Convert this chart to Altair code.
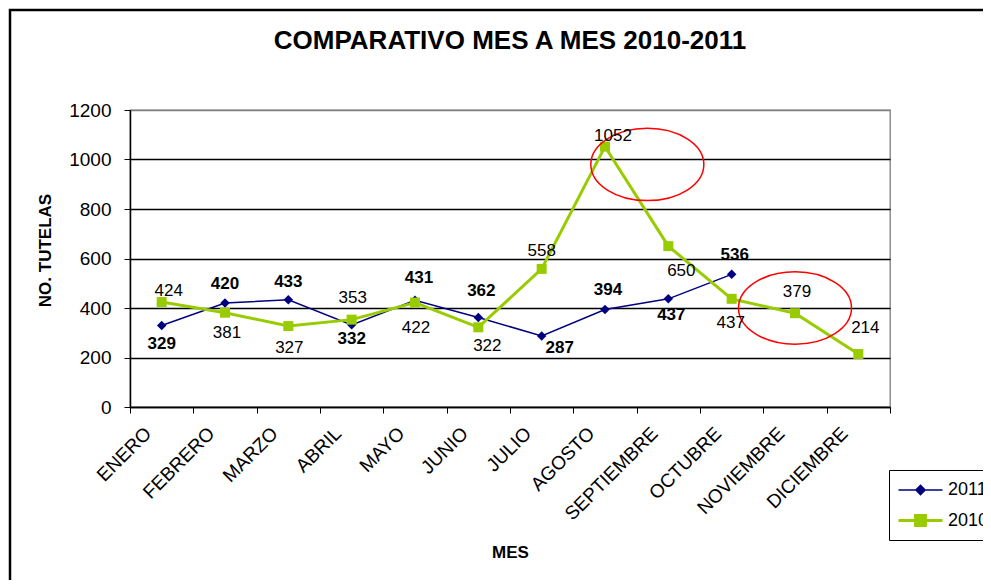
import altair as alt
import pandas as pd

# ---------------- data ----------------
meses = ["ENERO", "FEBRERO", "MARZO", "ABRIL", "MAYO", "JUNIO", "JULIO",
         "AGOSTO", "SEPTIEMBRE", "OCTUBRE", "NOVIEMBRE", "DICIEMBRE"]
valores_2011 = [329, 420, 433, 332, 431, 362, 287, 394, 437, 536]
valores_2010 = [424, 381, 327, 353, 422, 322, 558, 1052, 650, 437, 379, 214]
series = ["2011", "2010"]
y_ticks = [0, 200, 400, 600, 800, 1000, 1200]

# red highlight ellipses (annotations)
elipse_mes = ["SEPTIEMBRE", "NOVIEMBRE"]
elipse_valor = [980, 400]

# data-label offsets in pixels (dx, dy)
lbl_off_2011 = [(0, 18), (0, -19), (0, -18), (0, 14), (4, -22), (3, -26),
                (18, 12), (3, -19), (3, 16), (3, -19)]
lbl_off_2010 = [(7, -11), (2, 20), (1, 22), (1, -22), (1, 25), (9, 19),
                (0, -18), (8, -11), (13, 25), (-1, 24), (2, -21), (7, -26)]

df11 = pd.DataFrame({"mes": meses[:len(valores_2011)], "valor": valores_2011, "serie": "2011"})
df10 = pd.DataFrame({"mes": meses, "valor": valores_2010, "serie": "2010"})
df_all = pd.concat([df11, df10], ignore_index=True)
df_el = pd.DataFrame({"mes": elipse_mes, "valor": elipse_valor})

FONT = "Liberation Sans"
NAVY = "#000080"
GREEN = "#99CC00"

x_enc = alt.X(
    "mes:N", sort=meses,
    scale=alt.Scale(type="band", domain=meses, paddingInner=0, paddingOuter=0),
    axis=alt.Axis(
        title="MES", tickBand="extent", grid=False,
        labelAngle=-45, labelAlign="right", labelBaseline="middle",
        labelFont=FONT, labelFontSize=19, labelColor="black",
        labelPadding=17, labelOffset=-14,
        tickColor="black", tickSize=6, domainColor="black", domainWidth=1.5,
        titleFont=FONT, titleFontSize=17, titleFontWeight="bold", titleColor="black",
        titleX=380, titleY=145, titleBaseline="middle", titleAlign="center",
    ),
)
y_enc = alt.Y(
    "valor:Q",
    scale=alt.Scale(domain=[0, 1200], nice=False),
    axis=alt.Axis(
        values=y_ticks, format="d", title="NO. TUTELAS", grid=True,
        gridColor={"condition": {"test": "datum.value === 1200", "value": "#808080"}, "value": "black"},
        gridWidth=1.3,
        labelFont=FONT, labelFontSize=19, labelColor="black", labelPadding=13,
        tickColor="black", tickSize=6, domainColor="black", domainWidth=1.5,
        titleFont=FONT, titleFontSize=17, titleFontWeight="bold", titleColor="black",
        titleAngle=-90, titleX=-85, titleY=140, titleBaseline="middle", titleAlign="center",
    ),
)

# outer frame
frame = alt.Chart(pd.DataFrame({"k": [0]})).mark_rect(
    fillOpacity=0, stroke="black", strokeWidth=2.5
).encode(x=alt.value(-120), x2=alt.value(900), y=alt.value(-100), y2=alt.value(520))

line11 = alt.Chart(df11).mark_line(color=NAVY, strokeWidth=1.5).encode(x=x_enc, y=y_enc)
pts11 = alt.Chart(df11).mark_point(shape="diamond", filled=True, color=NAVY, size=90, opacity=1).encode(x=x_enc, y=y_enc)
line10 = alt.Chart(df10).mark_line(color=GREEN, strokeWidth=3).encode(x=x_enc, y=y_enc)
pts10 = alt.Chart(df10).mark_point(shape="square", filled=True, color=GREEN, size=100, opacity=1).encode(x=x_enc, y=y_enc)

# legend (symbols: line with marker)
path11 = "M-1,0L3,0M1,-0.42L1.42,0L1,0.42L0.58,0Z"
path10 = "M-1,0L3,0M0.55,-0.45L1.45,-0.45L1.45,0.45L0.55,0.45Z"
leg = alt.Legend(
    title=None, orient="none", legendX=759, legendY=360,
    strokeColor="black", fillColor="white", padding=8,
    symbolSize=484, symbolOpacity=1, rowPadding=9, labelOffset=26,
    labelFont=FONT, labelFontSize=18, labelColor="black",
)
legend_layer = alt.Chart(df_all).mark_point(opacity=0).encode(
    x=x_enc, y=y_enc,
    stroke=alt.Stroke("serie:N", sort=series, scale=alt.Scale(domain=series, range=[NAVY, GREEN]), legend=leg),
    fill=alt.Fill("serie:N", sort=series, scale=alt.Scale(domain=series, range=[NAVY, GREEN]), legend=leg),
    shape=alt.Shape("serie:N", sort=series, scale=alt.Scale(domain=series, range=[path11, path10]), legend=leg),
    strokeWidth=alt.StrokeWidth("serie:O", sort=series, scale=alt.Scale(domain=series, range=[1.5, 3]), legend=leg),
)

# ellipses
ellipse_path = "M-1,0A1,0.64 0 1,1 1,0A1,0.64 0 1,1 -1,0Z"
el1 = alt.Chart(df_el).transform_filter(alt.datum.mes == elipse_mes[0]).mark_point(
    shape=ellipse_path, size=12769, filled=False, color="red", strokeWidth=1.5, opacity=1, xOffset=-21
).encode(x=x_enc, y=y_enc)
el2 = alt.Chart(df_el).transform_filter(alt.datum.mes == elipse_mes[1]).mark_point(
    shape=ellipse_path, size=12769, filled=False, color="red", strokeWidth=1.5, opacity=1
).encode(x=x_enc, y=y_enc)

# data labels
labels = []
for m, (dx, dy) in zip(df11["mes"], lbl_off_2011):
    labels.append(alt.Chart(df11).transform_filter(alt.datum.mes == m).mark_text(
        dx=dx, dy=dy, font=FONT, fontSize=17, fontWeight="bold", color="black",
        align="center", baseline="middle"
    ).encode(x=x_enc, y=y_enc, text="valor:Q"))
for m, (dx, dy) in zip(df10["mes"], lbl_off_2010):
    labels.append(alt.Chart(df10).transform_filter(alt.datum.mes == m).mark_text(
        dx=dx, dy=dy, font=FONT, fontSize=17, color="black",
        align="center", baseline="middle"
    ).encode(x=x_enc, y=y_enc, text="valor:Q"))

chart = alt.layer(
    frame, legend_layer, line11, pts11, line10, pts10, el1, el2, *labels
).properties(
    width=760, height=297,
    title=alt.TitleParams("COMPARATIVO MES A MES 2010-2011", font=FONT, fontSize=26,
                          fontWeight="bold", color="black", anchor="middle", offset=-45),
    padding={"left": 122, "top": 102, "right": 93, "bottom": 173},
    autosize=alt.AutoSizeParams(type="none"),
).configure_view(stroke="#808080", strokeWidth=1.3)

chart.save("out.html", embed_options={"renderer": "svg", "actions": False})
